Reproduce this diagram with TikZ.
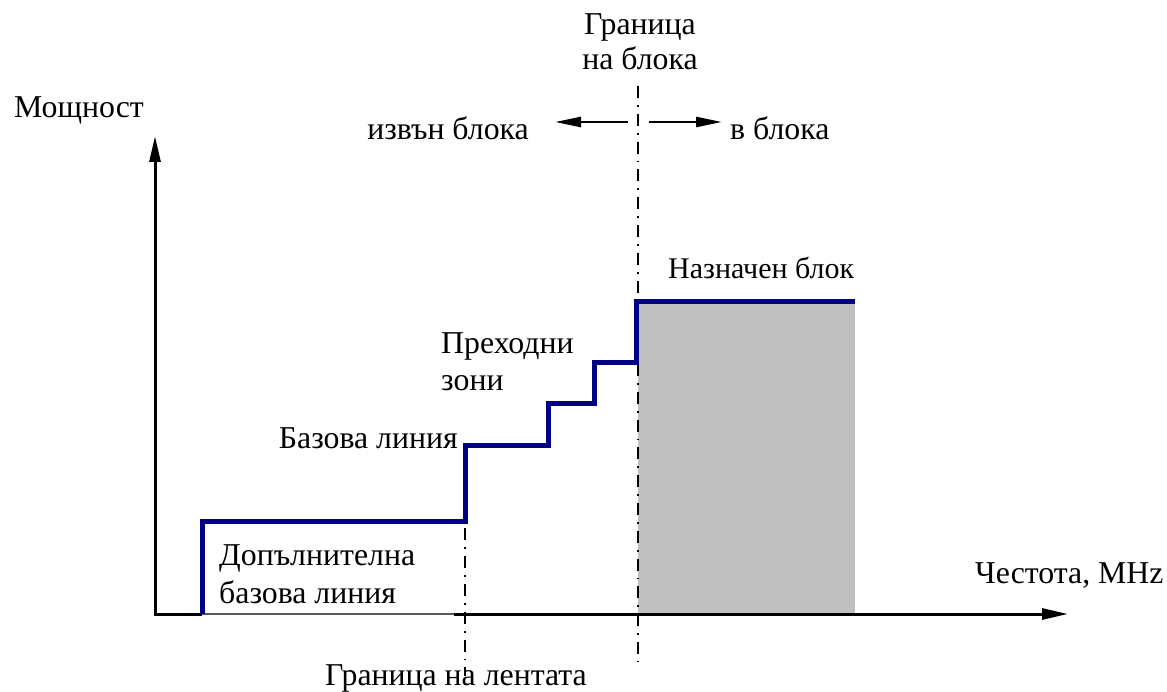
\documentclass[tikz,border=0pt]{standalone}
\usepackage{fontspec}
\setmainfont{Liberation Serif}
\usetikzlibrary{arrows.meta}
\definecolor{stepblue}{RGB}{0,0,128}
\definecolor{fillgray}{RGB}{192,192,192}
\begin{document}
\begin{tikzpicture}[x=1pt,y=-1pt,
  lbl/.style={inner sep=0pt,font=\fontsize{31.8}{38}\selectfont},
  axis/.style={line width=3pt,black},
  bigarrow/.style={-{Triangle[length=26pt,width=11pt]}},
  smallarrow/.style={line width=2.6pt,-{Triangle[length=26pt,width=10pt]}},
  dashdot/.style={line width=1.8pt,dash pattern=on 12pt off 7pt on 1.8pt off 7pt},
  stepline/.style={line width=5pt,stepblue,line join=miter,line cap=butt}]
\useasboundingbox (0,0) rectangle (1167,692);
% gray block
\fill[fillgray] (638,302) rectangle (855,614);
% axes
\coordinate (O) at (155,614);
\coordinate (ytip) at (155,136);
\coordinate (xtip) at (1068,614);
\coordinate (xa) at (202,614);
\coordinate (xb) at (454,614);
\draw[axis,bigarrow] (155,615.5) -- (ytip);
\draw[axis] (153.5,614) -- (xa);
\draw[line width=1.2pt,black!65] (xa) -- (xb);
\draw[axis,bigarrow] (xb) -- (xtip);
% dash-dot boundaries
\coordinate (bandtop) at (465,445);
\coordinate (bandbot) at (465,676);
\coordinate (blocktop) at (638,86);
\coordinate (blockbot) at (638,662);
\draw[dashdot] (bandtop) -- (bandbot);
\draw[dashdot] (blocktop) -- (blockbot);
% step line
\draw[stepline] (202,614) -- (202,521) -- (465,521) -- (465,445) -- (548,445) -- (548,403)
  -- (594,403) -- (594,363) -- (636,363) -- (636,302) -- (855,302);
% direction arrows
\coordinate (la) at (628,122);
\coordinate (lb) at (555,122);
\coordinate (ra) at (649,122);
\coordinate (rb) at (722,122);
\draw[smallarrow] (la) -- (lb);
\draw[smallarrow] (ra) -- (rb);
% labels
\node[lbl,anchor=base] (g1) at (640,35) {Граница};
\node[lbl,anchor=base] (g2) at (640,70) {на блока};
\node[lbl,anchor=base west] (pow) at (14,118) {Мощност};
\node[lbl,anchor=base] (out) at (448,140) {извън блока};
\node[lbl,anchor=base west] (in) at (730,140) {в блока};
\node[lbl,anchor=base west,font=\fontsize{30}{36}\selectfont] (assigned) at (668,279) {Назначен блок};
\node[lbl,anchor=base west] (tr1) at (441,354) {Преходни};
\node[lbl,anchor=base west] (tr2) at (441,390) {зони};
\node[lbl,anchor=base east] (base) at (458,448) {Базова линия};
\node[lbl,anchor=base west] (add1) at (219,565) {Допълнителна};
\node[lbl,anchor=base west] (add2) at (219,603) {базова линия};
\node[lbl,anchor=base west] (freq) at (975,583) {Честота, MHz};
\node[lbl,anchor=base] (band) at (456,685) {Граница на лентата};
\end{tikzpicture}
\end{document}
